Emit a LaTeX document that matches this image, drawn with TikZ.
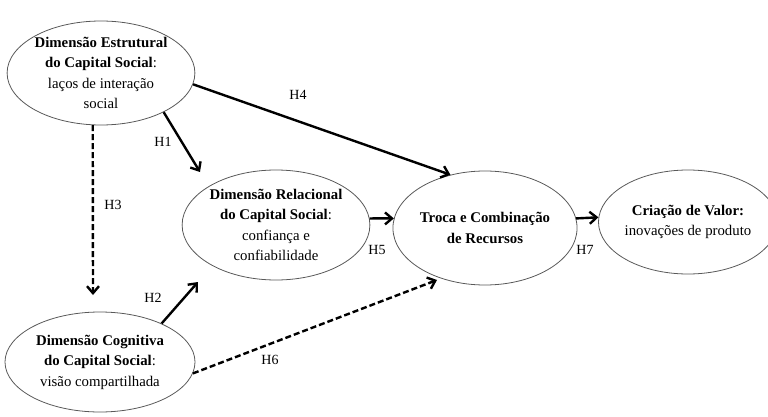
\documentclass[tikz,border=0pt]{standalone}
\usepackage{fontspec}
\setmainfont{Liberation Serif}
\usetikzlibrary{arrows.meta,shapes.geometric}
\tikzset{
  oval/.style={ellipse,draw=black!65,line width=0.8pt,inner sep=0pt,align=center,
    font=\fontsize{14.8}{20.5}\selectfont},
  arr/.style={line width=2.4pt,-{Straight Barb[length=7pt,width=12pt]}},
  darr/.style={arr,dash pattern=on 6pt off 3pt},
  hlab/.style={font=\fontsize{14}{16}\selectfont,inner sep=1pt}
}
\begin{document}
\begin{tikzpicture}[x=1pt,y=-1pt]
\useasboundingbox (0,0) rectangle (768,417);
\node[oval,minimum width=180pt,minimum height=104pt] (e1) at (101,73)
  {\textbf{Dimensão Estrutural}\\\textbf{do Capital Social}:\\laços de interação\\social};
\node[oval,minimum width=178pt,minimum height=110pt] (e2) at (276,225)
  {\textbf{Dimensão Relacional}\\\textbf{do Capital Social}:\\confiança e\\confiabilidade};
\node[oval,minimum width=176pt,minimum height=114pt] (e3) at (485,228)
  {\textbf{Troca e Combinação}\\\textbf{de Recursos}};
\node[oval,minimum width=156pt,minimum height=104pt] (e4) at (688,222)
  {\textbf{Criação de Valor:}\\inovações de produto};
\node[oval,minimum width=190pt,minimum height=100pt] (e5) at (100,362)
  {\textbf{Dimensão Cognitiva}\\\textbf{do Capital Social}:\\visão compartilhada};

\coordinate (t1) at (200,172);
\coordinate (t2) at (198,282);
\coordinate (t3) at (93,295);
\coordinate (t6) at (437,280);

\draw[arr] (e1.-7) -- (e3.123);
\draw[arr] (e1.-32) -- (t1);
\draw[darr] (e1.261) -- (t3);
\draw[arr] (e5.32) -- (t2);
\draw[darr] (e5.-7) -- (t6);
\draw[arr] (e2.4) -- (e3.174);
\draw[arr] (e3.6) -- (e4.177);

\node[hlab] (l4) at (298,95) {H4};
\node[hlab] (l1) at (163,142) {H1};
\node[hlab] (l3) at (113,205) {H3};
\node[hlab] (l2) at (153,298) {H2};
\node[hlab] (l5) at (377,250) {H5};
\node[hlab] (l6) at (270,360) {H6};
\node[hlab] (l7) at (585,250) {H7};
\end{tikzpicture}
\end{document}
